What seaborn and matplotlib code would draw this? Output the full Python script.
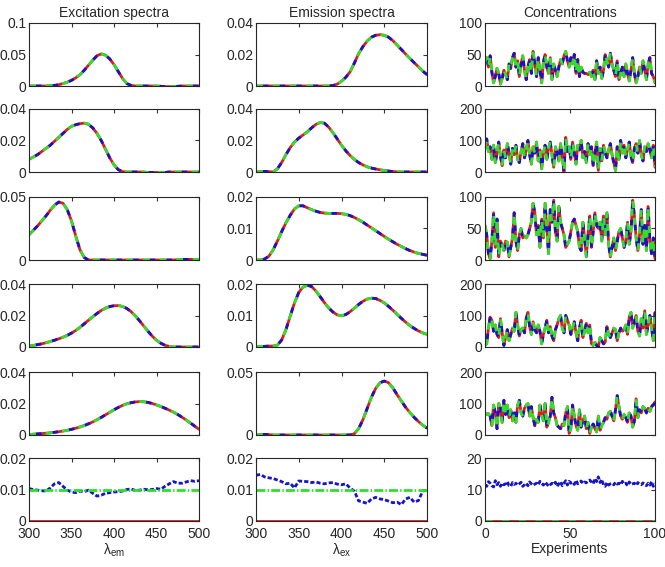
import numpy as np
import pandas as pd
import seaborn as sns
import matplotlib
matplotlib.use("Agg")
import matplotlib.pyplot as plt
from matplotlib.ticker import FuncFormatter

# wavelength axis (5 nm steps) and experiment index
wl = np.arange(300, 505, 5)
experiments = np.linspace(0, 100, 100)

# excitation spectra
exc1 = [0, 0, 0, 0, 0, 0.0005, 0.001, 0.002, 0.004, 0.006, 0.009, 0.013, 0.018, 0.025, 0.033, 0.041,
        0.048, 0.051, 0.049, 0.043, 0.034, 0.023, 0.012, 0.004, 0.001, 0, 0, 0, 0, 0, 0, -0.0005,
        -0.001, -0.001, -0.001, -0.0005, 0, 0, 0, 0, 0]
exc2 = [0.008, 0.0095, 0.011, 0.013, 0.015, 0.017, 0.0195, 0.022, 0.0245, 0.027, 0.029, 0.030, 0.0307,
        0.031, 0.0303, 0.028, 0.0245, 0.020, 0.0145, 0.009, 0.0045, 0.0015, 0.0003, 0, 0, 0, 0, 0,
        -0.0003, -0.0003, -0.0003, -0.0003, -0.0003, 0, 0, 0, 0, 0, 0, 0, 0]
exc3 = [0.020, 0.0235, 0.027, 0.031, 0.035, 0.0395, 0.0435, 0.046, 0.045, 0.040, 0.031, 0.019, 0.008,
        0.002, 0, 0, 0, 0, 0, 0, 0, 0, 0, 0, 0, 0, 0, 0, 0, 0, 0, 0, 0, 0, 0, 0.0003, 0.0004, 0.0005,
        0.0005, 0.0005, 0.0005]
exc4 = [0.0005, 0.001, 0.0015, 0.002, 0.0027, 0.0035, 0.0043, 0.0052, 0.0062, 0.0074, 0.0088, 0.0105,
        0.0125, 0.0147, 0.017, 0.0192, 0.0213, 0.0232, 0.0247, 0.0257, 0.0262, 0.0263, 0.0258, 0.0245,
        0.0225, 0.0198, 0.0167, 0.0133, 0.010, 0.0069, 0.0043, 0.0024, 0.0011, 0.0004, 0, 0, 0, 0, 0, 0, 0]
exc5 = [0.0003, 0.0005, 0.0007, 0.0009, 0.0011, 0.0014, 0.0017, 0.0021, 0.0025, 0.003, 0.0036, 0.0043,
        0.0051, 0.006, 0.0071, 0.0083, 0.0097, 0.0112, 0.0128, 0.0144, 0.016, 0.0175, 0.0188, 0.0198,
        0.0205, 0.021, 0.0212, 0.0211, 0.0207, 0.020, 0.0191, 0.0181, 0.017, 0.0158, 0.0145, 0.013,
        0.0113, 0.0095, 0.0076, 0.0056, 0.0036]
exc_err = [0.0103, 0.0100, 0.0098, 0.0096, 0.0095, 0.0105, 0.0118, 0.0122, 0.0110, 0.0098, 0.0092,
           0.0090, 0.0095, 0.0093, 0.0098, 0.0088, 0.0079, 0.0082, 0.0088, 0.0090, 0.0092, 0.0093,
           0.0095, 0.0100, 0.0102, 0.0097, 0.0098, 0.0101, 0.0099, 0.0100, 0.0103, 0.0101, 0.0110,
           0.0118, 0.0125, 0.0120, 0.0120, 0.0124, 0.0128, 0.0126, 0.0128]

# emission spectra
em1 = [0, 0, 0, 0, 0, 0, 0, 0, 0, 0, 0, 0, 0, 0, 0, 0, 0, 0, 0.0003, 0.0012, 0.003, 0.0055, 0.009,
       0.0145, 0.0205, 0.025, 0.0285, 0.031, 0.0322, 0.0326, 0.0322, 0.031, 0.0288, 0.026, 0.0232,
       0.0203, 0.0175, 0.0148, 0.0122, 0.0095, 0.0072]
em2 = [0, 0.0002, 0.0004, 0.0002, 0, 0.002, 0.006, 0.011, 0.0155, 0.019, 0.0215, 0.0235, 0.0255, 0.028,
       0.0302, 0.0314, 0.031, 0.0285, 0.025, 0.021, 0.017, 0.0135, 0.0105, 0.008, 0.006, 0.0045,
       0.0033, 0.0025, 0.0019, 0.0014, 0.001, 0.0006, 0.0003, 0.0001, 0, 0, 0, 0, 0, 0, 0]
em3 = [0, 0, 0.0003, 0.0012, 0.0032, 0.006, 0.009, 0.0118, 0.0142, 0.0162, 0.0172, 0.0172, 0.0166,
       0.016, 0.0155, 0.0151, 0.0149, 0.0148, 0.0148, 0.0148, 0.0147, 0.0145, 0.0141, 0.0135, 0.0128,
       0.012, 0.0111, 0.0102, 0.0093, 0.0084, 0.0075, 0.0066, 0.0058, 0.005, 0.0043, 0.0036, 0.003,
       0.0025, 0.0021, 0.0018, 0.0015]
em4 = [0.0002, 0.0002, 0.0002, 0.0003, 0.0003, 0.0006, 0.0022, 0.0055, 0.0098, 0.014, 0.0173, 0.019,
       0.0196, 0.0192, 0.0178, 0.016, 0.0141, 0.0124, 0.0111, 0.0102, 0.0099, 0.0103, 0.0112, 0.0123,
       0.0135, 0.0145, 0.0152, 0.0155, 0.0154, 0.0148, 0.014, 0.0129, 0.0117, 0.0104, 0.0091, 0.0079,
       0.0068, 0.0059, 0.0051, 0.0045, 0.004]
em5 = [0, 0.0003, 0.0005, 0.0003, 0, 0, 0, 0, 0, 0, 0, 0, 0, 0, 0, 0, 0, 0, 0, 0, 0, 0, 0, 0.001,
       0.005, 0.012, 0.021, 0.030, 0.037, 0.0415, 0.0428, 0.0415, 0.0375, 0.032, 0.027, 0.022, 0.0178,
       0.014, 0.0107, 0.0078, 0.0055]
em_err = [0.0145, 0.0148, 0.0140, 0.0137, 0.0135, 0.0130, 0.0125, 0.0118, 0.0120, 0.0105, 0.0127,
          0.0126, 0.0125, 0.0122, 0.0124, 0.0120, 0.0118, 0.0121, 0.0122, 0.0117, 0.0115, 0.0118,
          0.0105, 0.0095, 0.0064, 0.0060, 0.0056, 0.0070, 0.0075, 0.0070, 0.0068, 0.0063, 0.0058,
          0.0060, 0.0052, 0.0070, 0.0075, 0.0060, 0.0065, 0.0095, 0.0098]

# concentrations
conc1 = [38, 45, 30, 48, 22, 5, 15, 28, 20, 3, 12, 25, 18, 10, 35, 28, 45, 52, 30, 40, 15, 35, 48, 25,
         10, 30, 42, 20, 55, 35, 15, 45, 25, 5, 38, 50, 30, 20, 45, 10, 35, 25, 15, 30, 42, 35, 48, 55,
         40, 30, 45, 35, 50, 20, 42, 15, 30, 22, 20, 20, 18, 22, 15, 25, 10, 40, 20, 30, 12, 25, 50, 40,
         30, 52, 35, 25, 15, 40, 10, 20, 30, 15, 35, 20, 8, 25, 45, 20, 5, 15, 30, 20, 40, 25, 10, 35,
         45, 20, 15, 5]
conc2 = [75, 105, 65, 80, 40, 85, 30, 60, 95, 50, 20, 70, 45, 90, 60, 25, 75, 55, 85, 40, 30, 65, 90, 45,
         70, 100, 55, 25, 80, 60, 95, 35, 70, 10, 60, 85, 40, 75, 95, 55, 15, 80, 60, 35, 90, 50, 0, 110,
         65, 80, 40, 95, 60, 25, 85, 70, 100, 45, 65, 30, 90, 55, 80, 20, 60, 95, 5, 75, 35, 85, 60, 45,
         70, 90, 55, 30, 5, 80, 40, 100, 60, 85, 45, 70, 95, 50, 30, 75, 90, 60, 100, 55, 35, 80, 65, 90,
         70, 45, 85, 15]
conc3 = [55, 40, 10, 2, 30, 75, 20, 65, 5, 30, 25, 15, 30, 28, 5, 20, 35, 75, 30, 15, 40, 50, 35, 38,
         35, 40, 50, 60, 90, 75, 40, 55, 20, 65, 35, 90, 50, 10, 80, 60, 95, 45, 30, 85, 60, 50, 40, 20,
         25, 30, 45, 60, 65, 55, 45, 20, 15, 60, 35, 5, 40, 70, 20, 45, 75, 55, 50, 60, 30, 70, 40, 75,
         25, 5, 20, 35, 15, 30, 45, 50, 35, 20, 30, 60, 25, 45, 95, 70, 35, 15, 40, 80, 25, 55, 15, 85,
         30, 10, 35, 2]
conc4 = [5, 10, 60, 95, 85, 50, 70, 40, 30, 90, 45, 5, 30, 55, 20, 40, 60, 50, 110, 70, 35, 55, 60, 45,
         90, 110, 65, 40, 80, 55, 45, 70, 50, 10, 40, 60, 85, 45, 65, 35, 20, 55, 70, 90, 100, 60, 45,
         100, 85, 70, 40, 60, 80, 45, 20, 60, 85, 30, 50, 75, 45, 70, 10, 5, 15, 5, 0, 30, 20, 10, 15,
         65, 40, 30, 45, 60, 55, 20, 45, 60, 50, 55, 70, 40, 95, 110, 60, 80, 100, 50, 35, 90, 60, 115,
         40, 70, 100, 60, 20, 110]
conc5 = [70, 65, 68, 60, 30, 95, 70, 20, 100, 85, 40, 110, 65, 95, 55, 80, 45, 70, 40, 95, 110, 70, 60,
         85, 95, 100, 60, 90, 55, 30, 50, 40, 95, 65, 45, 100, 25, 40, 60, 120, 70, 55, 30, 25, 20, 35,
         30, 70, 90, 5, 20, 95, 60, 30, 15, 80, 25, 45, 60, 20, 40, 5, 25, 35, 20, 10, 60, 15, 30, 40, 55,
         50, 70, 75, 60, 45, 80, 125, 90, 60, 50, 65, 55, 40, 70, 60, 25, 45, 115, 55, 80, 70, 90, 85, 70,
         85, 75, 90, 95, 105]
conc_err = [11.5, 11.0, 12.5, 12.0, 11.2, 10.8, 12.8, 11.5, 12.2, 11.0, 12.0, 11.5, 11.8, 12.5, 11.2,
            11.0, 12.2, 11.6, 12.0, 11.4, 11.8, 12.3, 11.0, 11.5, 12.0, 11.2, 12.4, 11.8, 11.3, 11.7,
            12.0, 11.5, 12.6, 11.9, 11.4, 12.3, 11.8, 11.0, 11.5, 12.0, 11.6, 12.3, 11.0, 11.8, 12.5,
            11.2, 12.0, 12.8, 11.4, 12.6, 12.0, 12.3, 11.6, 12.9, 11.8, 12.2, 12.7, 11.9, 12.4, 12.1,
            12.8, 13.0, 12.4, 11.8, 13.5, 12.5, 14.0, 12.2, 13.2, 11.5, 11.0, 12.2, 11.4, 11.8, 12.0,
            11.5, 12.3, 11.7, 12.0, 11.5, 12.6, 11.8, 12.0, 11.2, 12.4, 11.6, 11.8, 12.0, 11.3, 12.2,
            11.7, 11.5, 12.1, 11.6, 11.2, 12.0, 11.4, 12.5, 11.0, 12.0]

titles = ["Excitation spectra", "Emission spectra", "Concentrations"]
exc_yticks = [[0, 0.05, 0.1], [0, 0.02, 0.04], [0, 0.05], [0, 0.02, 0.04], [0, 0.02, 0.04], [0, 0.01, 0.02]]
em_yticks = [[0, 0.02, 0.04], [0, 0.02, 0.04], [0, 0.01, 0.02], [0, 0.01, 0.02], [0, 0.05], [0, 0.01, 0.02]]
conc_yticks = [[0, 50, 100], [0, 100, 200], [0, 50, 100], [0, 100, 200], [0, 100, 200], [0, 10, 20]]

sns.set_style("white")
plt.rcParams["font.family"] = ["Liberation Sans", "DejaVu Sans"]
plt.rcParams["font.size"] = 10
plt.rcParams["lines.scale_dashes"] = False

RED, BLUE, GREEN = "#e31a1a", "#1414c8", "#2ee02e"
LW = 2.0
ls_blue = (7, (4, 8))
ls_green = (0, (5, 7))
ls_blue_err = (0, (3, 1.5))

fig = plt.figure(figsize=(6.65, 5.67), dpi=100)
W, H = 665, 567
col_left = [29, 256, 485]
col_w = [170, 171, 170]
row_top = [23, 109, 197, 284, 372, 458]
row_h = 63

exc = [exc1, exc2, exc3, exc4, exc5]
em = [em1, em2, em3, em4, em5]
conc = [conc1, conc2, conc3, conc4, conc5]


def style_axes(ax, xlim, xticks, yticks, show_x):
    ax.set_xlim(*xlim)
    ax.set_ylim(yticks[0], yticks[-1])
    ax.set_xticks(xticks)
    ax.set_yticks(yticks)
    ax.yaxis.set_major_formatter(FuncFormatter(lambda v, p: f"{v:g}"))
    ax.tick_params(direction="in", length=3, top=True, right=True, labelsize=10,
                   color="#333333", pad=2)
    ax.tick_params(axis="x", pad=4)
    if not show_x:
        ax.set_xticklabels([])
    for s in ax.spines.values():
        s.set_visible(True)
        s.set_color("#262626")
        s.set_linewidth(0.8)
    ax.set_xlabel("")
    ax.set_ylabel("")


def three_lines(ax, x, y_red, y_blue, y_green, green_ls=ls_green, blue_ls=ls_blue):
    sns.lineplot(x=x, y=y_red, ax=ax, color=RED, lw=LW, linestyle="-")
    sns.lineplot(x=x, y=y_blue, ax=ax, color=BLUE, lw=LW, linestyle=blue_ls)
    sns.lineplot(x=x, y=y_green, ax=ax, color=GREEN, lw=LW, linestyle=green_ls)


for r in range(6):
    bottom = 1 - (row_top[r] + row_h) / H
    axes = [fig.add_axes([col_left[c] / W, bottom, col_w[c] / W, row_h / H]) for c in range(3)]
    last = r == 5
    if not last:
        three_lines(axes[0], wl, exc[r], exc[r], exc[r])
        three_lines(axes[1], wl, em[r], em[r], em[r])
        three_lines(axes[2], experiments, conc[r], conc[r], conc[r])
    else:
        zeros_wl = [0] * len(wl)
        lvl = [0.01] * len(wl)
        three_lines(axes[0], wl, zeros_wl, exc_err, lvl, green_ls="-.", blue_ls=ls_blue_err)
        three_lines(axes[1], wl, zeros_wl, em_err, lvl, green_ls="-.", blue_ls=ls_blue_err)
        zeros_c = [0] * len(experiments)
        three_lines(axes[2], experiments, zeros_c, conc_err, zeros_c, blue_ls=ls_blue_err)
    style_axes(axes[0], (300, 500), [300, 350, 400, 450, 500], exc_yticks[r], last)
    style_axes(axes[1], (300, 500), [300, 350, 400, 450, 500], em_yticks[r], last)
    style_axes(axes[2], (0, 100), [0, 50, 100], conc_yticks[r], last)
    if r == 0:
        for c in range(3):
            axes[c].set_title(titles[c], fontsize=10, pad=4)
    if last:
        axes[0].set_xlabel("λ$_{\\mathregular{em}}$", fontsize=10, labelpad=1)
        axes[1].set_xlabel("λ$_{\\mathregular{ex}}$", fontsize=10, labelpad=1)
        axes[2].set_xlabel("Experiments", fontsize=10, labelpad=1)

fig.savefig("out.png", dpi=100)
